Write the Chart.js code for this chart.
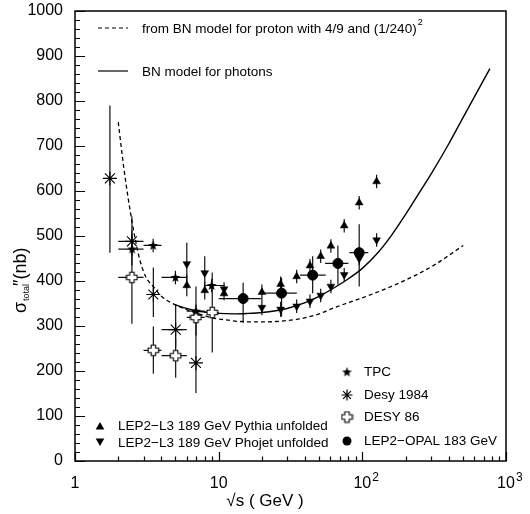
<!DOCTYPE html>
<html>
<head>
<meta charset="utf-8">
<script src="https://cdn.jsdelivr.net/npm/chart.js@4.4.0/dist/chart.umd.min.js"></script>
<style>
  html, body { margin: 0; padding: 0; background: #fff; }
</style>
</head>
<body>
<canvas id="myChart" width="530" height="514"></canvas>
<script>
// BN model for proton, scaled with 4/9 and (1/240)^2 (dashed)
const protonX = [2.0, 2.2, 2.5, 2.8, 3.1, 3.5, 4, 5, 7, 9, 11, 14, 20, 25, 37, 50, 63, 107, 182, 311, 504]
const protonY = [753, 645, 530, 452, 410, 388, 366, 347, 329, 318, 314, 310, 309, 310, 316, 327, 340, 366, 396, 434, 479]

// BN model for photons (solid)
const photonX = [5, 6, 7, 8, 10, 13, 16, 20, 25, 30, 40, 50, 60, 80, 100, 130, 160, 200, 250, 300, 400, 500, 600, 773]
const photonY = [347, 339, 334, 331, 328, 327, 328, 330, 334, 339, 352, 366, 380, 405, 428, 465, 502, 548, 597, 637, 705, 762, 808, 872]

// TPC
const tpcX = [2.5, 3.5, 5.0, 6.95, 8.94]
const tpcY = [471, 479, 408, 333, 390]
const tpcErr = [15, 15, 15, 15, 15]
const tpcXLo = [2, 3, 4, 6, 8]
const tpcXHi = [3, 4, 6, 8, 11]

// Desy 1984
const desy84X = [1.75, 2.49, 3.51, 5.02, 6.95]
const desy84Y = [628, 488, 370, 292, 218]
const desy84Up = [162, 56, 60, 55, 100]
const desy84Dn = [165, 53, 50, 40, 67]
const desy84XLo = [1.75, 2, 3.51, 4, 6.95]
const desy84XHi = [1.75, 3, 3.51, 6, 6.95]

// DESY 86
const desy86X = [2.49, 3.51, 5.02, 6.95, 9.02]
const desy86Y = [408, 246, 234, 319, 330]
const desy86Up = [105, 53, 40, 69, 89]
const desy86Dn = [103, 52, 49, 40, 89]
const desy86XLo = [2, 3, 4, 6, 8]
const desy86XHi = [3, 4, 6, 8, 10]

// LEP2-OPAL 183 GeV
const opalX = [14.8, 27.4, 45.1, 67.6, 95.1]
const opalY = [361, 373, 413, 439, 463]
const opalUp = [35, 34, 42, 40, 63]
const opalDn = [54, 52, 40, 47, 75]
const opalXLo = [10, 20.4, 36.8, 55, 81.3]
const opalXHi = [19.7, 35, 55.6, 80, 110]

// LEP2-L3 189 GeV, Pythia and Phojet unfolded
const l3X = [6.0, 8.0, 10.9, 20.0, 27.0, 34.9, 43.2, 51.3, 60.4, 74.8, 95.1, 125.7]
const pythiaY = [390, 379, 372, 375, 393, 410, 434, 455, 478, 523, 574, 621]
const pythiaErr = [24, 20, 15, 17, 17, 15, 15, 15, 15, 15, 15, 15]
const phojetY = [438, 418, 382, 341, 337, 344, 355, 368, 388, 414, 450, 491]
const phojetErr = [47, 37, 15, 17, 17, 15, 15, 15, 15, 15, 15, 15]

const yTicks = [0, 100, 200, 300, 400, 500, 600, 700, 800, 900, 1000]

const FONT = '"Liberation Sans", Arial, sans-serif'

const pts = (xs, ys) => xs.map((x, i) => ({ x: x, y: ys[i] }))

// filled five point star
function makeStar() {
  const c = document.createElement('canvas')
  c.width = 11; c.height = 11
  const g = c.getContext('2d')
  g.beginPath()
  for (let i = 0; i < 10; i++) {
    const r = i % 2 ? 2.1 : 5.2
    const a = -Math.PI / 2 + i * Math.PI / 5
    g.lineTo(5.5 + r * Math.cos(a), 5.8 + r * Math.sin(a))
  }
  g.closePath()
  g.fillStyle = '#000'
  g.fill()
  return c
}

// open plus sign
function makeOpenCross() {
  const c = document.createElement('canvas')
  c.width = 13; c.height = 13
  const g = c.getContext('2d')
  const m = 6.5, a = 2.2, b = 5.3
  g.beginPath()
  g.moveTo(m - a, m - b); g.lineTo(m + a, m - b); g.lineTo(m + a, m - a)
  g.lineTo(m + b, m - a); g.lineTo(m + b, m + a); g.lineTo(m + a, m + a)
  g.lineTo(m + a, m + b); g.lineTo(m - a, m + b); g.lineTo(m - a, m + a)
  g.lineTo(m - b, m + a); g.lineTo(m - b, m - a); g.lineTo(m - a, m - a)
  g.closePath()
  g.fillStyle = '#fff'
  g.fill()
  g.lineWidth = 1.1
  g.strokeStyle = '#000'
  g.stroke()
  return c
}

const starImg = makeStar()
const crossImg = makeOpenCross()

const errorBars = {
  id: 'errorBars',
  beforeDatasetsDraw(chart) {
    const { ctx, scales: { x, y } } = chart
    ctx.save()
    ctx.strokeStyle = '#111'
    ctx.lineWidth = 1.2
    chart.data.datasets.forEach(ds => {
      if (!ds.errUp) return
      ds.data.forEach((p, i) => {
        const px = x.getPixelForValue(p.x)
        const py = y.getPixelForValue(p.y)
        ctx.beginPath()
        ctx.moveTo(px, y.getPixelForValue(p.y + ds.errUp[i]))
        ctx.lineTo(px, y.getPixelForValue(p.y - ds.errDn[i]))
        if (ds.xLo) {
          ctx.moveTo(x.getPixelForValue(ds.xLo[i]), py)
          ctx.lineTo(x.getPixelForValue(ds.xHi[i]), py)
        }
        ctx.stroke()
      })
    })
    ctx.restore()
  }
}

function triangle(ctx, x, y, r, down) {
  const s = down ? -1 : 1
  ctx.beginPath()
  ctx.moveTo(x, y - s * r)
  ctx.lineTo(x + r * 0.866, y + s * r * 0.5)
  ctx.lineTo(x - r * 0.866, y + s * r * 0.5)
  ctx.closePath()
  ctx.fill()
}

function asterisk(ctx, x, y, r) {
  ctx.beginPath()
  for (let k = 0; k < 4; k++) {
    const a = k * Math.PI / 4
    ctx.moveTo(x - r * Math.cos(a), y - r * Math.sin(a))
    ctx.lineTo(x + r * Math.cos(a), y + r * Math.sin(a))
  }
  ctx.stroke()
}

const frame = {
  id: 'frame',
  afterDraw(chart) {
    const { ctx, chartArea: a, scales: { x, y } } = chart
    ctx.save()
    ctx.strokeStyle = '#000'
    ctx.fillStyle = '#000'
    ctx.lineWidth = 1.5
    ctx.strokeRect(a.left, a.top, a.right - a.left, a.bottom - a.top)

    // inward ticks
    ctx.lineWidth = 1.2
    ctx.beginPath()
    for (let v = 0; v <= 1000; v += 20) {
      const py = Math.round(y.getPixelForValue(v)) + 0.5
      ctx.moveTo(a.left, py)
      ctx.lineTo(a.left + (v % 100 === 0 ? 10 : 5), py)
    }
    for (let d = 1; d < 1000; d *= 10) {
      for (let m = 1; m <= 10; m++) {
        const px = Math.round(x.getPixelForValue(d * m)) + 0.5
        ctx.moveTo(px, a.bottom)
        ctx.lineTo(px, a.bottom - (m === 1 || m === 10 ? 9 : 4.5))
      }
    }
    ctx.stroke()

    // x tick labels
    ctx.textBaseline = 'alphabetic'
    ctx.font = `16px ${FONT}`
    ctx.textAlign = 'center'
    ctx.fillText('1', x.getPixelForValue(1), 488)
    ctx.fillText('10', x.getPixelForValue(10), 488)
    ;[[100, '2'], [1000, '3']].forEach(([v, e]) => {
      const px = x.getPixelForValue(v)
      ctx.font = `16px ${FONT}`
      ctx.textAlign = 'center'
      ctx.fillText('10', px, 488)
      const w = ctx.measureText('10').width
      ctx.font = `12px ${FONT}`
      ctx.textAlign = 'left'
      ctx.fillText(e, px + w / 2 + 1, 481)
    })

    // axis titles
    ctx.font = `17px ${FONT}`
    ctx.textAlign = 'center'
    ctx.fillText('\u221As ( GeV )', 265, 506)

    ctx.save()
    ctx.translate(26, 313)
    ctx.rotate(-Math.PI / 2)
    ctx.textAlign = 'left'
    let cx = 0
    ctx.font = `18px ${FONT}`
    ctx.fillText('\u03C3', cx, 0)
    cx += ctx.measureText('\u03C3').width + 1
    ctx.font = `9px ${FONT}`
    ctx.fillText('total', cx, 3)
    cx += ctx.measureText('total').width
    ctx.font = `18px ${FONT}`
    ctx.fillText('\u2033(nb)', cx - 2, 0)
    ctx.restore()

    // legends
    ctx.font = `13.5px ${FONT}`
    ctx.textAlign = 'left'
    ctx.textBaseline = 'middle'
    ctx.lineWidth = 1.2
    ctx.beginPath()
    ctx.setLineDash([4, 3])
    ctx.moveTo(98, 28); ctx.lineTo(128, 28)
    ctx.stroke()
    ctx.setLineDash([])
    ctx.beginPath()
    ctx.moveTo(98, 71); ctx.lineTo(128, 71)
    ctx.stroke()
    ctx.fillText('from BN model for proton with 4/9 and (1/240)', 142, 29)
    const w0 = ctx.measureText('from BN model for proton with 4/9 and (1/240)').width
    ctx.font = `9px ${FONT}`
    ctx.fillText('2', 142 + w0 + 1, 23)
    ctx.font = `13.5px ${FONT}`
    ctx.fillText('BN model for photons', 142, 72)

    ctx.drawImage(starImg, 347 - 5.5, 372 - 5.5)
    ctx.fillText('TPC', 364, 372)
    asterisk(ctx, 347, 395, 5.5)
    ctx.fillText('Desy 1984', 364, 395)
    ctx.drawImage(crossImg, 347 - 6.5, 417 - 6.5)
    ctx.fillText('DESY 86', 364, 417)
    ctx.beginPath()
    ctx.arc(347, 441, 4.5, 0, Math.PI * 2)
    ctx.fill()
    ctx.fillText('LEP2\u2212OPAL 183 GeV', 364, 441)

    triangle(ctx, 100, 427, 5, false)
    ctx.fillText('LEP2\u2212L3 189 GeV Pythia unfolded', 118, 426)
    triangle(ctx, 100, 441, 5, true)
    ctx.fillText('LEP2\u2212L3 189 GeV Phojet unfolded', 118, 443)
    ctx.restore()
  }
}

const ctx = document.getElementById('myChart')
// eslint-disable-next-line no-unused-vars
const myChart = new Chart(ctx, {
  type: 'scatter',
  data: {
    datasets: [
      {
        label: 'from BN model for proton with 4/9 and (1/240)^2',
        data: pts(protonX, protonY),
        showLine: true,
        pointRadius: 0,
        borderColor: '#000',
        borderWidth: 1.3,
        borderDash: [4, 3],
        cubicInterpolationMode: 'monotone',
        order: 10
      },
      {
        label: 'BN model for photons',
        data: pts(photonX, photonY),
        showLine: true,
        pointRadius: 0,
        borderColor: '#000',
        borderWidth: 1.4,
        cubicInterpolationMode: 'monotone',
        order: 10
      },
      {
        label: 'TPC',
        data: pts(tpcX, tpcY),
        pointStyle: starImg,
        errUp: tpcErr, errDn: tpcErr, xLo: tpcXLo, xHi: tpcXHi
      },
      {
        label: 'Desy 1984',
        data: pts(desy84X, desy84Y),
        pointStyle: 'star',
        pointRadius: 7,
        borderColor: '#000',
        borderWidth: 1.1,
        errUp: desy84Up, errDn: desy84Dn, xLo: desy84XLo, xHi: desy84XHi
      },
      {
        label: 'DESY 86',
        data: pts(desy86X, desy86Y),
        pointStyle: crossImg,
        errUp: desy86Up, errDn: desy86Dn, xLo: desy86XLo, xHi: desy86XHi
      },
      {
        label: 'LEP2-OPAL 183 GeV',
        data: pts(opalX, opalY),
        pointStyle: 'circle',
        pointRadius: 5,
        backgroundColor: '#000',
        borderColor: '#000',
        errUp: opalUp, errDn: opalDn, xLo: opalXLo, xHi: opalXHi
      },
      {
        label: 'LEP2-L3 189 GeV Pythia unfolded',
        data: pts(l3X, pythiaY),
        pointStyle: 'triangle',
        pointRadius: 4.5,
        backgroundColor: '#000',
        borderColor: '#000',
        borderWidth: 0.5,
        errUp: pythiaErr, errDn: pythiaErr
      },
      {
        label: 'LEP2-L3 189 GeV Phojet unfolded',
        data: pts(l3X, phojetY),
        pointStyle: 'triangle',
        rotation: 180,
        pointRadius: 4.5,
        backgroundColor: '#000',
        borderColor: '#000',
        borderWidth: 0.5,
        errUp: phojetErr, errDn: phojetErr
      }
    ]
  },
  options: {
    responsive: false,
    animation: false,
    events: [],
    layout: { autoPadding: false, padding: { top: 11, right: 24, left: 0, bottom: 0 } },
    plugins: {
      legend: { display: false },
      tooltip: { enabled: false }
    },
    scales: {
      x: {
        type: 'logarithmic',
        min: 1,
        max: 1000,
        grid: { display: false, drawTicks: false },
        border: { display: false },
        ticks: { display: false },
        afterFit: s => { s.height = 53; s.paddingLeft = 0; s.paddingRight = 0 }
      },
      y: {
        min: 0,
        max: 1000,
        grid: { display: false, drawTicks: false },
        border: { display: false },
        afterBuildTicks: s => { s.ticks = yTicks.map(v => ({ value: v })) },
        ticks: {
          padding: 12,
          color: '#000',
          font: { family: FONT, size: 16 },
          callback: v => String(v)
        },
        afterFit: s => { s.width = 75; s.paddingTop = 0; s.paddingBottom = 0 }
      }
    }
  },
  plugins: [errorBars, frame]
})
</script>
</body>
</html>
